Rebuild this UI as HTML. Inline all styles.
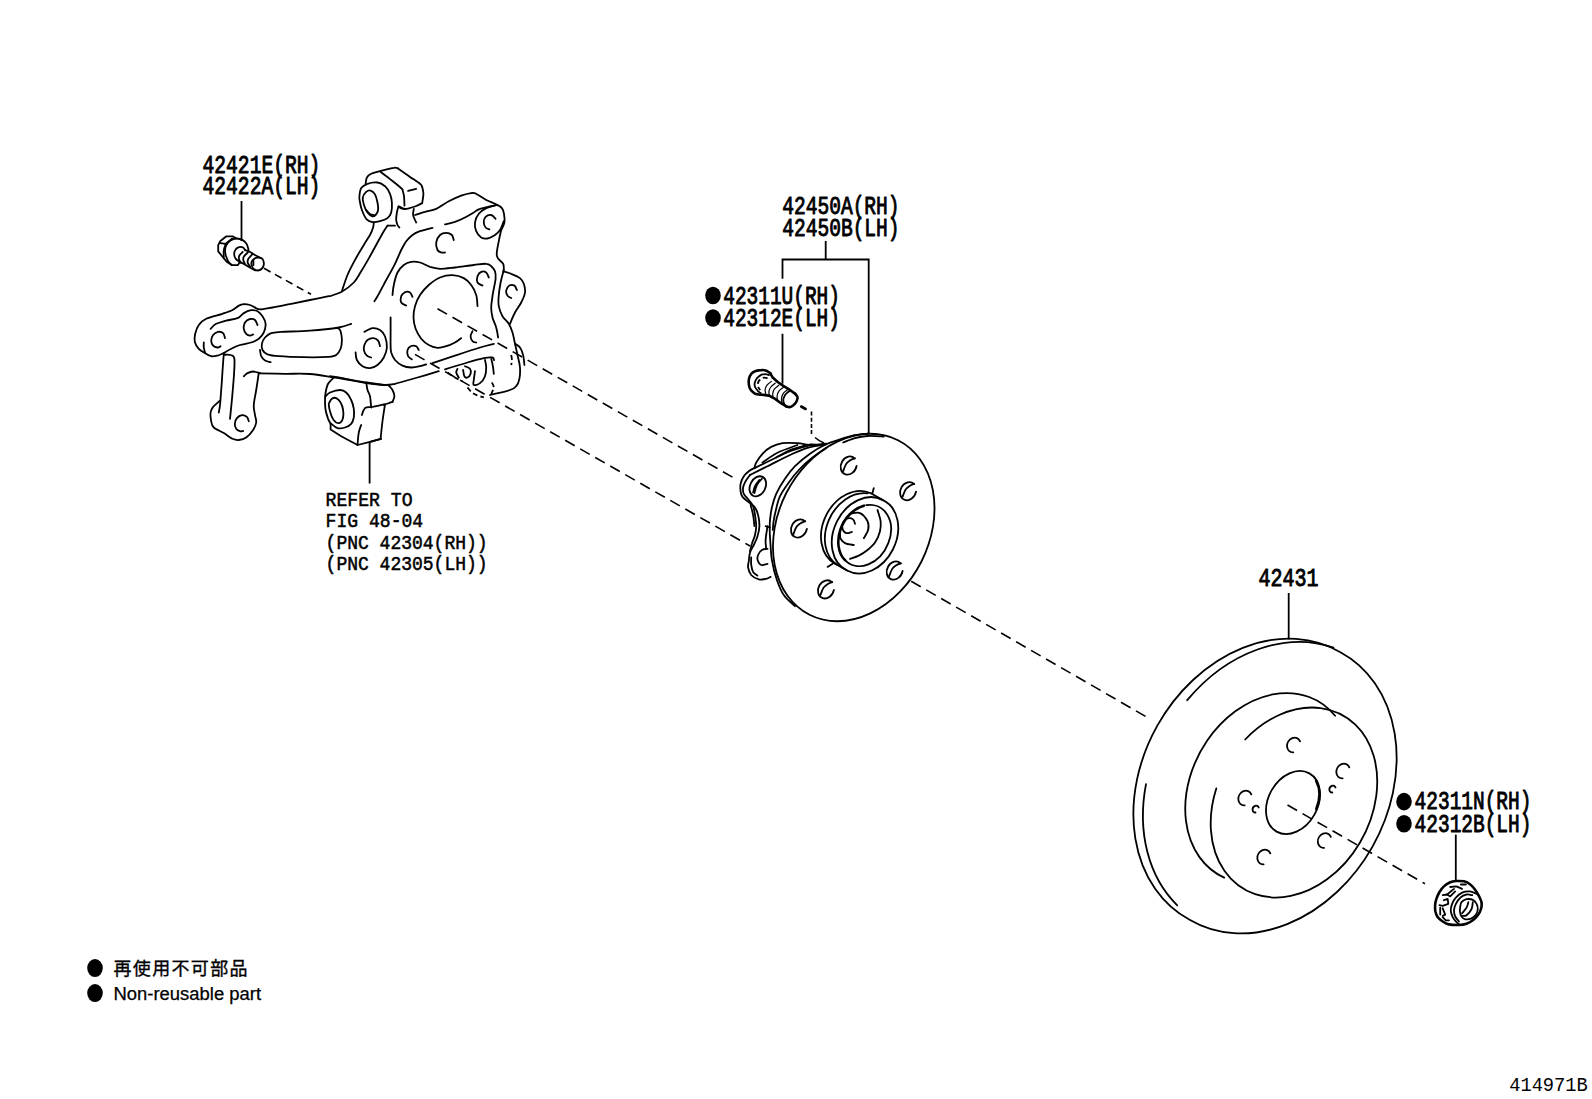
<!DOCTYPE html>
<html lang="ja">
<head>
<meta charset="utf-8">
<title>414971B</title>
<style>
html,body{margin:0;padding:0;background:#fff;}
body{width:1592px;height:1099px;overflow:hidden;font-family:"Liberation Sans","Noto Sans CJK JP",sans-serif;}
svg{display:block;position:absolute;left:0;top:0;}
.lbl{font-family:"Liberation Mono",monospace;font-size:26px;fill:#000;stroke:#000;stroke-width:.95px;stroke-linejoin:round;}
.ref{font-family:"Liberation Mono",monospace;font-size:21px;fill:#000;stroke:#000;stroke-width:.55px;stroke-linejoin:round;}
.ln{stroke:#000;stroke-width:1.8;fill:none;stroke-linecap:round;stroke-linejoin:round;}
.thin{stroke:#000;stroke-width:1.2;fill:none;stroke-linecap:round;stroke-linejoin:round;}
.dash{stroke:#000;stroke-width:1.6;fill:none;stroke-dasharray:11 6.3;}
.lead{stroke:#000;stroke-width:1.8;fill:none;}
.hv{stroke-width:2.6;}
.dsh{stroke-dasharray:5 3;stroke-linecap:butt;}
</style>
</head>
<body>
<svg width="1592" height="1099" viewBox="0 0 1592 1099">
<rect width="1592" height="1099" fill="#fff"/>

<!-- ===== leader lines ===== -->
<g class="lead" id="leaders">
<path d="M241.5 201V241"/>
<path d="M369.6 442V483.5"/>
<path d="M825.7 241V259.5M782.5 278.7V259.5H868.7V433.7M782.5 333.7V383.7"/>
<path d="M1288.7 593V639.5"/>
<path d="M1455.8 834.6V880.5"/>
</g>

<!-- ===== dashed axis lines ===== -->
<g class="dash" id="axes">
<path style="stroke-dasharray:7.5 5" d="M264 268.3L311 294.3"/>
<path d="M437.5 308.7L737.5 480"/>
<path d="M415 354.4L750 546"/>
<path d="M911.2 581.2L1147.5 717.5"/>
<path d="M1287.5 805L1425 883.8"/>
<path style="stroke-dasharray:4 2.2" d="M811.5 411.5V436"/>
<path style="stroke-dasharray:none" d="M815 437.5Q819 441 824 443"/>
</g>

<g id="disc" class="ln">
<path d="M1340.4 652.2A153.6 121.6 -60.6 1 1 1189.6 919.8A153.6 121.6 -60.6 1 1 1340.4 652.2"/>
<path d="M1187.2 700.2A153.6 121.6 -60.6 0 1 1333.4 647.7"/>
<path d="M1177.2 905.3A153.6 121.6 -60.6 0 1 1146 784.1"/>
<path d="M1224.2 877.6A100 77.2 -60.6 1 1 1335.1 715.8"/>
<path d="M1245.2 739.5A100 77.2 -60.6 1 1 1216.3 788.4"/>
<path d="M1309.4 773.4A33.4 24.6 -60.6 1 1 1276.6 831.6A33.4 24.6 -60.6 1 1 1309.4 773.4"/>
<path class="hv" d="M1316.2 780.9A33.4 24.6 -60.6 0 1 1316.3 809"/>
<path d="M1293.3 752.3A7.6 6.4 -60.6 1 1 1300 741.4"/>
<path d="M1342.6 778.3A7.6 6.4 -60.6 1 1 1349.3 767.4"/>
<path d="M1244.6 805.3A7.6 6.4 -60.6 1 1 1251.3 794.4"/>
<path d="M1324.1 847.8A7.6 6.4 -60.6 1 1 1330.8 836.9"/>
<path d="M1263.6 864.3A7.6 6.4 -60.6 1 1 1270.3 853.4"/>
<path d="M1255.5 812.5A3.6 3 -60.6 1 1 1258.7 807.5"/>
<path d="M1332.3 792.5A3.6 3 -60.6 1 1 1335.5 787.5"/>
</g>
<g id="hub" class="ln">
<path d="M898 440.2A97.8 75.7 -63.1 1 1 809.5 614.8A97.8 75.7 -63.1 1 1 898 440.2"/>
<path d="M868.8 433.5C866.5 433.8 859.8 434.3 855 435.2C850.2 436.2 844.9 437.8 840 439.4C835.1 440.9 830.6 442.1 825.6 444.5C820.6 446.9 815.1 450.1 810 453.8C804.9 457.4 799.2 462.1 795 466.2C790.8 470.4 788.1 474.2 785 478.8C781.9 483.3 778.4 489 776.2 493.8C774.1 498.5 772.9 503.1 771.9 507.5C770.8 511.9 770.4 515.8 770 520C769.6 524.2 769.7 529.2 769.8 532.5C769.8 535.8 769.9 535.4 770.2 540C770.6 544.6 770.8 553.3 771.9 560C773 566.7 774.9 574.2 776.9 580C778.9 585.8 780.7 590.6 783.8 595C786.8 599.4 793.1 604.4 795 606.2"/>
<path d="M826.2 448.1C824 449.7 817.1 453.9 812.5 457.5C807.9 461.1 802.7 465.8 798.8 470C794.8 474.2 791.9 478.1 788.8 482.5C785.6 486.9 782 492.1 780 496.2C778 500.4 777.5 503.5 776.5 507.5C775.5 511.5 774.4 516.2 773.8 520C773.1 523.8 772.9 528.3 772.8 530"/>
<path d="M843.1 442.5C845.1 441.8 850.9 439.2 855 438.1C859.1 437 862.7 436.3 867.5 436C872.3 435.7 881 436.4 883.8 436.5"/>
<path d="M856.6 466A9.4 7.7 -63.1 1 1 854.7 458.5"/>
<path d="M854.9 458.2C854.1 458.6 851.4 459.6 849.9 460.6C848.4 461.6 847.2 462.3 846.1 464.1C845 465.9 843.6 470 843.1 471.2"/>
<path d="M916 491.6A9.4 7.7 -63.1 1 1 914.1 484.1"/>
<path d="M914.3 483.8C913.5 484.2 910.8 485.2 909.3 486.2C907.8 487.2 906.6 487.9 905.5 489.7C904.4 491.5 903 495.6 902.5 496.8"/>
<path d="M806.9 528.9A9.4 7.7 -63.1 1 1 805 521.4"/>
<path d="M805.2 521.1C804.4 521.5 801.7 522.5 800.2 523.5C798.7 524.5 797.5 525.2 796.4 527C795.3 528.8 793.9 532.9 793.4 534.1"/>
<path d="M902.6 571A9.4 7.7 -63.1 1 1 900.7 563.5"/>
<path d="M900.9 563.2C900.1 563.6 897.4 564.6 895.9 565.6C894.4 566.6 893.2 567.3 892.1 569.1C891 570.9 889.6 575 889.1 576.2"/>
<path d="M833.9 589.8A9.4 7.7 -63.1 1 1 832 582.3"/>
<path d="M832.2 582C831.4 582.4 828.7 583.4 827.2 584.4C825.7 585.4 824.5 586.1 823.4 587.9C822.3 589.7 820.9 593.8 820.4 595"/>
<path d="M835.1 563.7A39.5 30.6 -63.1 0 1 870.9 493.3"/>
<path d="M837.3 564.9A39.5 30.6 -63.1 0 1 867.7 493.4"/>
<path d="M882.9 500.1A39.5 30.6 -63.1 1 1 847.1 570.5A39.5 30.6 -63.1 1 1 882.9 500.1"/>
<path d="M870.9 493.3L882.9 500.1"/>
<path d="M835.1 563.7L847.1 570.5"/>
<path d="M866.2 505.2A32 24.7 -63.1 1 1 845 560.2"/>
<path class="hv" d="M845 560.2A32 24.7 -63.1 0 1 863.9 505.7"/>
<path d="M850 513.8C851.7 513.6 857.1 511.9 860 513.1C862.9 514.4 866.1 518.4 867.5 521.2C868.9 524.1 868.8 527.2 868.1 530C867.5 532.8 864.5 536.8 863.8 538.1"/>
<path d="M877.5 510C878 511.9 880.2 517.7 880.6 521.2C881 524.8 880.9 527.7 880 531.2C879.1 534.8 877.1 539.4 875 542.5C872.9 545.6 870.2 547.8 867.5 550C864.8 552.2 861.7 554.2 858.8 555.6C855.8 557.1 851.5 558.2 850 558.8"/>
<path d="M855 523.8C854.7 523 854.4 520.2 853.1 519.4C851.9 518.5 849.2 518 847.5 518.5C845.8 519 844 520.8 843.1 522.5C842.3 524.2 842 527 842.5 528.8C843 530.5 844.7 532.6 846.2 533.1C847.8 533.6 850.9 532.1 851.9 531.9"/>
<path d="M840 533.8C840.1 534.6 839.8 537.2 840.6 538.8C841.5 540.3 842.8 542.1 845 543.1C847.2 544.2 852.3 544.7 853.8 545"/>
<path d="M872.5 493.1L873.8 488.1"/>
<path d="M827.5 566.9L833.8 563.1"/>
<path class="hv" d="M826.2 444C824.8 444.2 820.2 444.9 817.5 445C814.8 445.1 811.2 444.8 810 444.8"/>
<path d="M826.2 443.8C823.8 444 816 445.1 811.2 445C806.5 444.9 802.3 443.4 797.5 443.1C792.7 442.8 786.9 442.5 782.5 443.1C778.1 443.8 774.6 445.1 771.2 446.9C767.9 448.6 765 451.1 762.5 453.8C760 456.4 757.6 460.1 756.2 462.5C754.9 464.9 754.7 467.2 754.4 468.1"/>
<path d="M754.4 468.1C753.4 468.6 750.5 469.9 748.8 471.2C747 472.6 745.1 474.2 743.8 476.2C742.4 478.3 741.1 481.2 740.6 483.8C740.1 486.2 740.3 489.1 740.6 491.2C740.9 493.4 740.9 494.9 742.5 496.9C744.1 498.9 747.9 501.4 750 503.1C752.1 504.9 753.6 505.5 755 507.5C756.4 509.5 757.4 511.9 758.1 515C758.9 518.1 759.5 522.7 759.4 526.2C759.3 529.8 758.4 533.1 757.5 536.2C756.6 539.4 755 542.3 753.8 545C752.5 547.7 750.8 549.8 750 552.5C749.2 555.2 749.1 558.8 748.8 561.2C748.4 563.8 747.7 565.2 748.1 567.5C748.5 569.8 749.5 573 751.2 575C753 577 756.2 578.8 758.8 579.4C761.2 580 764.3 579.2 766.2 578.8C768.2 578.3 769.9 577.2 770.6 576.9"/>
<path d="M750 475C749.3 476 746.8 479.2 745.6 481.2C744.5 483.3 743.4 485.4 743.1 487.5C742.8 489.6 742.8 491.7 743.8 493.8C744.7 495.8 747.2 497.9 748.8 500C750.3 502.1 752.1 503.8 753.1 506.2C754.2 508.8 754.5 511.7 755 515C755.5 518.3 756.2 522.9 756.2 526.2C756.2 529.6 755.7 532.1 755 535C754.3 537.9 752.7 541 751.9 543.8C751 546.5 750.3 550 750 551.2"/>
<path d="M751.2 557.5C751.2 558.8 750.9 562.6 751.2 565C751.6 567.4 752.1 570.1 753.1 571.9C754.2 573.6 756.8 575 757.5 575.6"/>
<path d="M754.4 468.1C757.2 466.8 765.3 462.8 771.2 460C777.2 457.2 783.3 453.8 790 451.2C796.7 448.8 807.7 446 811.2 445"/>
<path d="M750 475C752.9 473.5 760.8 469.6 767.5 466.2C774.2 462.9 783.3 458.1 790 455C796.7 451.9 801.7 449.5 807.5 447.8C813.3 446 822.1 444.9 825 444.4"/>
<path d="M762.5 462.5C765 460.9 771.7 455.7 777.5 452.8C783.3 449.8 794.2 446.3 797.5 445"/>
<path d="M776.2 457.5C778.5 456.2 785.2 452 790 450C794.8 448 802.5 446.4 805 445.6"/>
<path d="M750.6 505C751 506.7 752.5 511.5 753.1 515C753.8 518.5 754.2 524.4 754.4 526.2"/>
<path d="M762.6 476.9A10.5 7.6 -63.1 1 1 753 495.7A10.5 7.6 -63.1 1 1 762.6 476.9"/>
<path d="M761.9 478.8C761 479.8 758.1 482.6 756.9 485C755.6 487.4 754.8 491.8 754.4 493.1"/>
<path d="M759.4 480C758.6 481 756 484.2 755 486.2C754 488.3 753.4 491.5 753.1 492.5"/>
<path d="M767.5 548.8C766.6 549 763.4 549 761.9 550C760.3 551 758.8 553.2 758.1 555C757.4 556.8 757.2 559 757.8 560.6C758.3 562.3 759.6 564.5 761.2 565C762.9 565.5 766.5 564 767.5 563.8"/>
<path d="M767.5 526.2C767.2 528.5 765.8 536.2 765.6 540C765.4 543.8 766.1 547.3 766.2 548.8"/>
<path d="M765.6 526.2L770 527.5"/>
</g>
<g id="knuckle" class="ln">
<path d="M365.6 183.8C365.8 182.7 365.9 179.2 366.9 177.5C367.8 175.8 369.1 174.8 371.2 173.8C373.4 172.7 376.2 172.2 380 171.2C383.8 170.2 390.7 168.2 393.8 167.8C396.8 167.3 397.4 168.4 398.1 168.5"/>
<path d="M398.1 168.5C400.1 169.9 406.4 174.3 410 176.9C413.6 179.4 418 182.1 420 183.8C422 185.4 421.9 186.4 422.2 186.9"/>
<path d="M422.2 186.9C422.4 188 423.4 191 423.4 193.8C423.4 196.5 422.4 201.6 422.2 203.1"/>
<path d="M422.2 203.1C421 203.7 417.9 205.5 415 206.5C412.1 207.5 407.6 209 405 209C402.4 209 400.3 206.9 399.4 206.5"/>
<path d="M380 171.5C381.5 172.6 385.8 175.9 388.8 178.1C391.7 180.4 395.2 183.1 397.5 185C399.8 186.9 401.7 188.6 402.5 189.4"/>
<path d="M402.5 190C402.8 191 403.7 193.6 404 196.2C404.3 198.9 404.4 204.1 404.5 205.6"/>
<path d="M408.1 190.9L416.2 188.8"/>
<path d="M359.4 196.2C359.6 194.1 359.9 190.2 361.2 188.1C362.6 186 364.8 184.7 367.5 183.8C370.2 182.8 374.6 182.1 377.5 182.5C380.4 182.9 382.9 184.4 385 186.2C387.1 188.1 388.9 191 390 193.8C391.1 196.5 391.7 199.4 391.9 202.5C392.1 205.6 392 209.9 391.2 212.5C390.5 215.1 389.4 216.7 387.5 218.1C385.6 219.6 382.5 220.6 380 221.2C377.5 221.9 374.8 222.5 372.5 222.1C370.2 221.7 368 220.8 366.2 218.8C364.5 216.7 363 212.9 361.9 210C360.8 207.1 360.2 203.5 359.8 201.2C359.3 199 359.1 198.4 359.4 196.2Z"/>
<path d="M362.8 197.5C363.1 195.1 364.9 193 366.2 191.9C367.6 190.7 369.2 190.2 370.6 190.6C372.1 191 373.9 192.4 375 194.4C376.1 196.4 377 199.9 377.5 202.5C378 205.1 378.4 207.9 378.1 210C377.8 212.1 376.7 214 375.6 215C374.6 216 373.2 216.7 371.9 216.2C370.5 215.8 368.8 214.2 367.5 212.5C366.2 210.8 365.2 208.8 364.4 206.2C363.6 203.8 362.4 199.9 362.8 197.5Z"/>
<path d="M366.2 210C366.9 210.7 368.7 213.2 370 214C371.3 214.8 373.3 214.8 374 215"/>
<path d="M398.5 206.5C398.2 207.5 397.2 210.2 396.9 212.5C396.5 214.8 396.1 217.9 396.2 220C396.4 222.1 397 223.8 397.5 225C398 226.2 399.1 227.1 399.4 227.5"/>
<path d="M398.5 206.5C399 206.8 400.2 208.1 401.2 208.5C402.3 208.9 404.4 208.9 405 209"/>
<path d="M413.8 208.8C413.6 209.8 412.9 213.1 413.1 215C413.3 216.9 414.5 218.8 415 220C415.5 221.2 416 222.1 416.2 222.5"/>
<path d="M387.5 225.6L395 225.6"/>
<path d="M373.8 222.5C373.6 223.3 373.8 225.4 373.1 227.5C372.5 229.6 371.6 232.1 370 235C368.4 237.9 366.2 240.8 363.8 245C361.2 249.2 357.7 255 355 260C352.3 265 349.7 269.8 347.5 275C345.3 280.2 342.8 288.5 341.9 291.2"/>
<path d="M387.5 225.6C386.9 226.6 385.4 228.4 383.8 231.2C382.1 234.1 379.8 238.3 377.5 242.5C375.2 246.7 372.7 251.5 370 256.2C367.3 261 364 266.9 361.2 271.2C358.5 275.6 356.9 279.2 353.8 282.5C350.6 285.8 346.5 289 342.5 291.2C338.5 293.5 332.1 295.4 330 296.2"/>
<path d="M415 215C416.7 214.5 421.5 212.9 425 211.9C428.5 210.8 432.3 210.5 436.2 208.8C440.2 207 444.6 203.4 448.8 201.2C452.9 199.1 457.5 197 461.2 195.6C465 194.3 468.8 193.4 471.2 193.1C473.8 192.8 473.8 192.6 476.2 193.8C478.8 194.9 482.9 198.2 486.2 200C489.6 201.8 493.6 203 496.2 204.4C498.9 205.7 500.6 206.6 501.9 208.1C503.2 209.7 503.6 211.4 504 213.8C504.4 216.1 504.8 219.8 504.4 222.5C503.9 225.2 501.8 228.8 501.2 230"/>
<path d="M496.2 205C494.6 205.5 489.2 206.7 486.2 208.1C483.3 209.6 480.6 211.4 478.8 213.8C476.9 216.1 475.4 219.6 475 222.5C474.6 225.4 475.2 228.8 476.2 231.2C477.3 233.8 479.4 236.3 481.2 237.5C483.1 238.7 485.2 238.9 487.5 238.5C489.8 238.1 492.9 236.4 495 235C497.1 233.6 498.5 232.3 500 230C501.5 227.7 503.1 222.7 503.8 221.2"/>
<path d="M495.6 218.8C494.9 218.1 492.9 215.3 491.2 215C489.6 214.7 486.9 215.6 485.6 216.9C484.4 218.1 483.8 220.7 483.8 222.5C483.8 224.3 484.7 226.4 485.6 227.5C486.6 228.6 488.8 229.1 489.4 229.4"/>
<path d="M445 224.4C446.7 224 451.7 223 455 221.9C458.3 220.7 461.9 219.1 465 217.5C468.1 215.9 471.2 214 473.8 212.5C476.2 211 476.2 210 480 208.8C483.8 207.5 493.5 205.6 496.2 205"/>
<path d="M432.5 227.9C430.4 228.4 423.3 230.1 420 231.2C416.7 232.4 414.8 233.3 412.5 235C410.2 236.7 408.1 238.8 406.2 241.2C404.4 243.8 403.1 246.2 401.2 250C399.4 253.8 397.5 258.8 395 263.8C392.5 268.8 389.2 274.6 386.2 280C383.3 285.4 379.5 292.7 377.5 296.2C375.5 299.8 374.9 300.4 374.4 301.2"/>
<path d="M453.8 240C453.4 239.2 453.1 236.2 451.9 235C450.6 233.8 448.2 232.8 446.2 232.8C444.3 232.8 441.7 233.4 440 235C438.3 236.6 436.7 240 436.2 242.5C435.8 245 436.7 248.3 437.5 250C438.3 251.7 440 252.1 441.2 252.5C442.5 252.9 444.4 252.5 445 252.5"/>
<path d="M501.2 230C500.8 231.9 499.5 236.9 498.8 241.2C498 245.6 496.1 252.5 496.9 256.2C497.6 260 502 261.5 503.1 263.8C504.3 266 503.6 269 503.8 270"/>
<path d="M392.5 295C392.7 293.3 392.9 288.8 393.8 285C394.6 281.2 395.8 275.8 397.5 272.5C399.2 269.2 401.5 266.8 403.8 265C406 263.2 408.5 262.3 411.2 261.9C414 261.5 416.9 261.7 420 262.5C423.1 263.3 426.7 265.8 430 266.9C433.3 267.9 435.8 268.6 440 268.8C444.2 268.9 449.4 268.1 455 267.5C460.6 266.9 468.5 265.6 473.8 265C479 264.4 483.3 263.5 486.2 263.8C489.2 264 489.8 265 491.2 266.2C492.7 267.5 494.3 269.2 495 271.2C495.7 273.3 495.8 275.8 495.6 278.8C495.4 281.7 494.3 285.8 493.8 288.8C493.2 291.7 492.9 293.1 492.5 296.2C492.1 299.4 491.2 304 491.2 307.5C491.2 311 491.7 314.2 492.5 317.5C493.3 320.8 495.3 324.2 496.2 327.5C497.2 330.8 497.8 335.8 498.1 337.5"/>
<path d="M477.5 306.2C477.3 304.4 477.3 298.5 476.2 295C475.2 291.5 473.3 287.8 471.2 285C469.2 282.2 466.9 279.8 463.8 278.1C460.6 276.5 456.5 275.4 452.5 275.2C448.5 275.1 444 275.9 440 277.5C436 279.1 432.1 282.1 428.8 285C425.4 287.9 422.3 291.5 420 295C417.7 298.5 416.1 302.5 415 306.2C413.9 310 413.4 313.8 413.5 317.5C413.6 321.2 414.3 325.2 415.6 328.8C416.9 332.3 419.1 336 421.2 338.8C423.4 341.5 426 343.5 428.8 345C431.5 346.5 434.6 347.5 437.5 347.8C440.4 348 443.3 347.1 446.2 346.2C449.2 345.4 452.5 343.9 455 342.5C457.5 341.1 460.2 338.9 461.2 338.1"/>
<path d="M488.8 277.5C488.3 276.7 487.5 273.4 486.2 272.5C485 271.6 482.7 271.2 481.2 271.9C479.8 272.5 478.1 274.5 477.5 276.2C476.9 278 476.7 280.9 477.5 282.5C478.3 284.1 481.7 285.1 482.5 285.6"/>
<path d="M412.5 296.9C412.1 296.1 411.2 293.3 410 292.5C408.8 291.7 406.5 291.6 405 292.2C403.5 292.9 401.9 294.5 401.2 296.2C400.6 298 400.4 300.9 401.2 302.5C402.1 304.1 405.4 305.1 406.2 305.6"/>
<path d="M418.8 350C418.3 349.4 417.5 346.9 416.2 346.2C415 345.6 412.7 345.4 411.2 346C409.8 346.6 408 348.3 407.5 350C407 351.7 407.4 354.7 408.1 356.2C408.9 357.8 411.2 358.9 411.9 359.4"/>
<path d="M472.5 331.2C472.2 332.1 470.6 334.6 470.6 336.2C470.6 337.9 471.6 340.2 472.5 341.2C473.4 342.3 475.6 342.3 476.2 342.5"/>
<path d="M516.9 290C516.5 289.3 515.6 286.4 514.4 285.6C513.1 284.9 510.7 284.8 509.4 285.6C508 286.5 506.6 289 506.2 290.6C505.9 292.3 506.7 294.4 507.5 295.6C508.3 296.9 510.6 297.7 511.2 298.1"/>
<path d="M503.8 270C503.2 272.1 501.5 278.3 500.6 282.5C499.8 286.7 499.1 291 498.8 295C498.4 299 498.1 302.7 498.8 306.2C499.4 309.8 500.8 313.3 502.5 316.2C504.2 319.2 507.1 321 508.8 323.8C510.4 326.5 511.5 329.2 512.5 332.5C513.5 335.8 514.2 340 515 343.8C515.8 347.5 516.7 351 517.5 355C518.3 359 519.7 363.5 520 367.5C520.3 371.5 520 375.6 519.4 378.8C518.8 381.9 517.8 384.4 516.2 386.2C514.7 388.1 514.4 388.5 510 390C505.6 391.5 493.3 394.2 490 395"/>
<path d="M503.1 271.2C504.5 271.7 508.4 272.6 511.2 273.8C514.1 274.9 517.9 276.5 520 278.1C522.1 279.8 522.9 281.4 523.8 283.8C524.6 286.1 525.4 289.4 525 292.5C524.6 295.6 522.9 299.2 521.2 302.5C519.6 305.8 516.9 309 515 312.5C513.1 316 510.8 321.9 510 323.8"/>
<path d="M515 343.8C515.8 344.4 518.6 345.6 520 347.5C521.4 349.4 522.4 352.1 523.1 355C523.9 357.9 524.2 363.3 524.4 365"/>
<path d="M390.6 317.5C390.6 320 390.6 327.9 390.6 332.5C390.6 337.1 390.5 341.7 390.6 345C390.7 348.3 390.5 350 391.2 352.5C392 355 393.1 357.8 395 360C396.9 362.2 399.8 364.4 402.5 365.6C405.2 366.9 408.3 367.4 411.2 367.5C414.2 367.6 417.5 366.8 420 366.2C422.5 365.7 425.2 364.7 426.2 364.4"/>
<path d="M432.5 363.1C436.2 361.9 447.1 358.2 455 355.6C462.9 353 473.5 349.5 480 347.5C486.5 345.5 491.5 344.4 493.8 343.8"/>
<path d="M330 376.2C332.1 376.6 336.5 377 342.5 378.1C348.5 379.3 359.2 382 366.2 383.1C373.3 384.3 380.2 384.9 385 385C389.8 385.1 389.6 385 395 383.8C400.4 382.5 410.2 379.6 417.5 377.5C424.8 375.4 435.2 372.3 438.8 371.2"/>
<path d="M445 369.4C448.8 368.2 461 364.4 467.5 362.5C474 360.6 479.6 359 483.8 358.1C487.9 357.3 490.8 357.1 492.5 357.5C494.2 357.9 493.8 359.8 494 360.2"/>
<path d="M355.6 352.5C355.8 353.8 355.7 357.7 356.9 360C358 362.3 360.3 364.9 362.5 366.2C364.7 367.6 367.5 368.3 370 368.1C372.5 367.9 375.2 366.8 377.5 365C379.8 363.2 382.2 360.4 383.8 357.5C385.3 354.6 386.7 351 386.9 347.5C387.1 344 386.1 339.2 385 336.2C383.9 333.3 382.1 331.4 380 330C377.9 328.6 375.1 327.8 372.5 328.1C369.9 328.4 365.7 331.2 364.4 331.9"/>
<path d="M380 346.2C379.7 345.3 379.3 342 378.1 340.6C377 339.3 374.9 338.2 373.1 338.1C371.4 338 369 338.9 367.5 340C366 341.1 365 343.2 364.4 345C363.8 346.8 363.6 348.9 364 350.6C364.4 352.4 365.7 354.5 366.9 355.6C368.1 356.8 370.5 357.2 371.2 357.5"/>
<path d="M457.5 368.8C457.3 369.4 456 371 456.2 372.5C456.5 374 458.3 376.7 458.8 377.5"/>
<path d="M465 366.2C465.8 366.7 469.1 367.5 470 368.8C470.9 370 471 372.3 470.6 373.8C470.2 375.2 468.5 377.1 467.5 377.5C466.5 377.9 465.1 377.5 464.4 376.2C463.6 375 463.3 371 463.1 370"/>
<path d="M475 371.2C474.8 372.7 474 377.7 473.8 380C473.5 382.3 472.7 384.5 473.8 385C474.8 385.5 478.1 384.6 480 383.1C481.9 381.7 484 378.9 485 376.2C486 373.6 486.2 370.2 486.2 367.5C486.2 364.8 485.2 361.2 485 360"/>
<path d="M491.2 358.8C491.6 360.2 492.7 365 493.1 367.5C493.5 370 493.6 372.7 493.8 373.8"/>
<path class="dsh" d="M491.9 382.5C492.2 383.3 493.9 385.6 493.8 387.5C493.6 389.4 491.7 392.7 491.2 393.8"/>
<path class="dsh" d="M467.5 387.5C468.5 388.5 471 392.1 473.8 393.8C476.5 395.4 482.1 396.9 483.8 397.5"/>
<path class="dsh" d="M447.5 372.5C448.8 373.3 452.5 376 455 377.5C457.5 379 461.2 380.6 462.5 381.2"/>
<path class="dsh" d="M511.2 355C511.4 355.8 511.9 358.3 511.9 360C511.9 361.7 511.4 364.2 511.2 365"/>
<path d="M255 307.5C254.2 307.1 251.9 305.6 250 305C248.1 304.4 245.6 304 243.8 304.1C241.9 304.2 240.6 304.6 238.8 305.6C236.9 306.6 235.2 308.6 232.5 310C229.8 311.4 226.9 312.3 222.5 313.8C218.1 315.2 210.2 316.9 206.2 318.8C202.3 320.6 200.6 322.5 198.8 325C196.9 327.5 195.9 330.8 195.2 333.8C194.6 336.7 194.4 340 195 342.5C195.6 345 197.1 347 198.8 348.8C200.4 350.5 202.9 351.9 205 353.1C207.1 354.4 209.2 355.8 211.2 356.2C213.3 356.7 215.4 356.1 217.5 355.6C219.6 355.1 222.7 353.5 223.8 353.1"/>
<path d="M203.8 342.5C203.8 343.3 203.5 345.8 203.8 347.5C204 349.2 204.8 351.7 205 352.5"/>
<path d="M210.6 328.8C211.6 327.9 213.6 325.1 216.2 323.8C218.9 322.4 222.7 321.6 226.2 320.6C229.8 319.7 234.6 319.4 237.5 318.1C240.4 316.9 241.5 314.4 243.8 313.1C246 311.8 249 310.6 251.2 310.2C253.5 309.9 255.6 310.2 257.5 311.2C259.4 312.2 261.1 314.2 262.5 316.2C263.9 318.3 265.4 321 265.6 323.8C265.8 326.5 264.9 330 263.8 332.5C262.6 335 260.8 337.1 258.8 338.8C256.7 340.4 254.4 341.5 251.2 342.5C248.1 343.5 243.3 344 240 345C236.7 346 234 347.4 231.2 348.8C228.5 350.1 225 352.4 223.8 353.1"/>
<path d="M257.5 325C257.1 324.2 256.2 321 255 320C253.8 319 251.7 318.6 250 319C248.3 319.4 246 320.9 245 322.5C244 324.1 243.5 326.9 243.8 328.8C244 330.6 245.2 332.6 246.2 333.8C247.3 334.9 248.9 335.5 250 335.6C251.1 335.7 252.6 334.6 253.1 334.4"/>
<path d="M225 338.1C224.7 337.3 224.3 334.2 223.1 333.1C222 332.1 219.8 331.6 218.1 331.9C216.5 332.2 214.3 333.5 213.1 335C212 336.5 211.2 338.9 211.2 340.6C211.2 342.4 212.1 344.5 213.1 345.6C214.2 346.8 216.2 347.4 217.5 347.5C218.8 347.6 220.1 346.5 220.6 346.2"/>
<path d="M255 307.5C255.8 307.8 257.1 309.4 260 309.4C262.9 309.4 267.3 308.4 272.5 307.5C277.7 306.6 285 305 291.2 303.8C297.5 302.5 303.8 301.2 310 300C316.2 298.8 325.6 296.9 328.8 296.2"/>
<path d="M351.2 323.8C349.2 324.4 345.6 326.4 338.8 327.5C331.9 328.6 319.6 329.9 310 330.6C300.4 331.4 287.7 331.5 281.2 331.9C274.8 332.3 274 332.2 271.2 333.1C268.5 334.1 266.6 335.7 265 337.5C263.4 339.3 262.3 341.7 261.9 343.8C261.5 345.8 261.6 348.2 262.5 350C263.4 351.8 264.8 353.3 267.5 354.4C270.2 355.4 272.7 355.8 278.8 356.2C284.8 356.7 295.4 357.1 303.8 357.2C312.1 357.4 323.3 357.2 328.8 356.9C334.2 356.5 334.3 356.4 336.2 355C338.2 353.6 339.7 351.2 340.6 348.8C341.6 346.2 341.9 342.9 341.9 340C341.9 337.1 341.2 333.2 340.6 331.2C340 329.3 338.5 328.6 338.1 328.1"/>
<path d="M260 350C260.2 351 260.4 354.5 261.2 356.2C262.1 358 263.4 359.6 265 360.6C266.6 361.6 269.7 362 270.6 362.2"/>
<path d="M243.8 376.2C244.4 375.7 245.9 373.9 247.5 373.1C249.1 372.3 251 371.5 253.1 371.5C255.2 371.5 258.9 372.9 260 373.1"/>
<path d="M260 373.4C264.2 373.4 276.7 373.6 285 373.8C293.3 373.9 301.7 373.4 310 374C318.3 374.6 325.6 376.1 335 377.5C344.4 378.9 358.1 381.2 366.2 382.5C374.4 383.8 381 384.6 384 385"/>
<path d="M223.8 354.4C223.5 357.2 222.9 365.3 222.5 371.2C222.1 377.2 221.7 384.4 221.2 390C220.8 395.6 220.4 401.2 220 405C219.6 408.8 219 411.2 218.8 412.5"/>
<path d="M223.8 354.8C224.9 354.8 228.9 354.3 230.6 355C232.4 355.7 233.9 355 234.4 358.8C234.9 362.5 234.2 370.6 233.8 377.5C233.3 384.4 232.5 393.1 231.9 400C231.2 406.9 230.3 415.6 230 418.8"/>
<path d="M258.8 373.1C258.3 375.9 257.1 384.7 256.2 390C255.4 395.3 254 400.8 253.8 405C253.5 409.2 254.6 412.1 255 415C255.4 417.9 256.6 420 256.2 422.5C255.9 425 254.8 427.5 253.1 430C251.5 432.5 248.6 435.8 246.2 437.5C243.9 439.2 241 439.8 238.8 440C236.5 440.2 235 439.9 232.5 438.8C230 437.6 226.9 435 223.8 433.1C220.6 431.2 215.8 429.5 213.8 427.5C211.7 425.5 211.8 423.8 211.2 421.2C210.7 418.8 210.3 414.9 210.6 412.5C210.9 410.1 211.6 408.9 213.1 406.9C214.7 404.9 218.9 401.7 220 400.6"/>
<path d="M248.8 421.2C248.4 420.5 248 417.9 246.9 416.9C245.7 415.9 243.5 415 241.9 415.2C240.2 415.5 238.1 416.7 236.9 418.1C235.7 419.5 234.9 422 234.8 423.8C234.6 425.5 235.4 427.5 236.2 428.8C237.1 430 238.9 430.9 240 431.2C241.1 431.6 242.6 431 243.1 431"/>
<path d="M333.8 377.5C332.8 378.5 329.5 381.2 328.1 383.8C326.8 386.2 326.1 389.8 325.6 392.5C325.1 395.2 325 397.1 325 400C325 402.9 325.1 406.9 325.6 410C326.1 413.1 327.3 416.5 328.1 418.8C329 421 330.2 422.9 330.6 423.8"/>
<path d="M325.6 396.2C326.4 395.6 327.6 393.5 330 392.5C332.4 391.5 337.3 390 340 390C342.7 390 344.4 390.8 346.2 392.5C348.1 394.2 350 397.3 351.2 400C352.5 402.7 353.3 405.8 353.8 408.8C354.2 411.7 354.2 415 353.8 417.5C353.3 420 352.7 422.1 351.2 423.8C349.8 425.4 347.3 426.8 345 427.5C342.7 428.2 339.8 428.8 337.5 428.1C335.2 427.5 332.3 424.5 331.2 423.8"/>
<path d="M329.4 402.5C329.9 401.5 330.7 399.5 331.9 398.8C333 398 334.8 397.5 336.2 398.1C337.7 398.8 339.5 400.5 340.6 402.5C341.8 404.5 342.7 407.5 343.1 410C343.5 412.5 343.5 415.4 343.1 417.5C342.7 419.6 341.8 421.7 340.6 422.5C339.5 423.3 337.6 423.2 336.2 422.5C334.9 421.8 333.5 420 332.5 418.1C331.5 416.2 330.6 413.4 330 411.2C329.4 409.1 328.9 406.5 328.8 405C328.6 403.5 328.9 403.5 329.4 402.5Z"/>
<path d="M330.6 423.8L330.6 429.4L341.2 436.2L357.5 445L370 441.9L381.2 438.8"/>
<path d="M361.2 425C360.8 426.2 359.4 429.2 358.8 432.5C358.1 435.8 357.7 442.9 357.5 445"/>
<path d="M366.2 382.5C366.5 383.8 366.9 387.7 367.5 390C368.1 392.3 369.4 393.3 370 396.2C370.6 399.2 371 405.6 371.2 407.5"/>
<path d="M361.9 415C362.4 413.9 363.2 409.5 365 408.1C366.8 406.8 369.3 407.5 372.5 406.9C375.7 406.2 382.1 404.8 384 404.4"/>
<path d="M388.8 385.6C389.4 386.4 391.6 388.2 392.5 390C393.4 391.8 394.4 394.3 394.4 396.2C394.4 398.2 392.8 400.9 392.5 401.9"/>
<path d="M392.5 401.9C391.2 402.3 386.5 403.9 385 404.4C383.5 404.9 384 404.7 383.8 404.8"/>
<path d="M385 404.4C384.6 407.2 383.2 415.5 382.5 421.2C381.8 427 380.9 435.8 380.6 438.8"/>
<path d="M380.6 438.8L370 441.9"/>
</g>
<g id="bolt1" class="ln">
<path d="M236.4 238.5L232.6 236.3L226.4 236.3L220.1 241.3L218.2 245.1L218.2 251.4L223.8 258.3L226.4 261.4L232 265.2L237.7 265.2L239.5 262.7"/>
<path d="M220.4 243.1L225.7 243.8L232.3 238.5"/>
<path d="M225.7 243.8C225.4 244.9 224.2 247.7 223.8 250.1C223.5 252.5 223.8 256.9 223.8 258.3"/>
<path d="M248.3 251.4C248.3 251 248.7 250.1 248.3 248.9C248 247.6 247.4 245.3 246.5 243.8C245.5 242.4 244.4 241 242.7 240.1C241 239.2 238.5 238.4 236.4 238.5C234.3 238.6 231.8 239.6 230.1 240.7C228.5 241.8 227.2 243.5 226.4 245.1C225.5 246.7 225.2 248.5 225.1 250.1C225 251.8 225.2 253.3 225.7 255.2C226.3 257 227.2 259.8 228.2 261.4C229.3 263.1 231.4 264.6 232 265.2"/>
<path d="M245.2 250.1C244.8 249.7 243.8 247.8 242.7 247.3C241.5 246.8 239.5 246.8 238.3 247.3C237 247.8 235.8 248.9 235.2 250.1C234.5 251.3 234.1 253.1 234.2 254.5C234.3 256 234.9 257.7 235.8 258.9C236.7 260.1 238.9 261.3 239.5 261.7"/>
<path d="M242.7 252C242.2 252.5 240.2 254 239.5 255.2C238.9 256.3 238.7 257.7 238.9 258.9C239.1 260.2 240.5 262.1 240.8 262.7"/>
<path d="M247.7 252.6C247.1 253.3 244.7 255.2 243.9 256.4C243.2 257.7 243.1 258.9 243.3 260.2C243.5 261.5 244.9 263.6 245.2 264.3"/>
<path d="M252.1 254.5C251.5 255.3 249.1 257.6 248.3 258.9C247.6 260.3 247.4 261.4 247.7 262.7C248 264 249.8 266.1 250.2 266.8"/>
<path d="M245.2 250.1L250.2 252L255.3 255.2L261.5 258.3"/>
<path d="M239.5 261.9L243.9 263.9L250.2 267.7L255.3 270.4"/>
<path d="M263.4 260.8C263.8 262 264 263.8 263.7 265.2C263.4 266.6 262.5 268.1 261.5 269C260.5 269.9 258.9 270.4 257.8 270.5C256.6 270.6 255.6 270.3 254.6 269.6C253.7 268.9 252.6 267.7 252.1 266.5C251.6 265.2 251.2 263.3 251.5 262.1C251.8 260.8 252.9 259.7 254 258.9C255 258.2 256.5 257.8 257.8 257.7C259 257.6 260.6 257.8 261.5 258.3C262.5 258.8 263.1 259.7 263.4 260.8Z"/>
<path d="M253.4 260.5L253.4 265.2"/>
</g>
<g id="bolt2" class="ln">
<path class="hv" d="M770.2 373.2C769.5 372.8 767.8 371.2 766.4 370.7C764.9 370.2 763.1 370 761.4 370.1C759.6 370.1 757.4 370.4 755.7 371C754 371.6 752.4 372.6 751.3 373.8C750.2 375 749.5 376.5 749.1 378.2C748.7 379.9 748.6 382.1 748.8 383.9C749 385.6 749.1 387.3 750.1 388.9C751 390.5 753 392.3 754.4 393.3C755.9 394.2 757.3 394.3 758.8 394.5C760.4 394.8 762.1 394.7 763.9 394.9C765.6 395.1 768.6 395.6 769.5 395.8"/>
<path class="hv" d="M770.2 373.2L772.7 377.6L777.7 382L783.3 385.8L790.3 390.2L795.3 393.9"/>
<path class="hv" d="M769.5 395.8L775.2 398.9L780.2 402.7L785.9 406.2"/>
<path class="hv" d="M795.3 393.9C795.6 394.4 797.3 395.8 797.5 397.1C797.7 398.3 797.2 400.1 796.5 401.5C795.9 402.8 794.5 404.3 793.4 405.2C792.2 406.2 790.9 407 789.6 407.1C788.4 407.3 786.5 406.3 785.9 406.2"/>
<path d="M790.3 390.8C789.6 391.2 787.5 392.2 786.5 393.3C785.4 394.3 784.5 395.8 784 397.1C783.4 398.3 783.2 399.6 783.3 400.8C783.4 402.1 784.1 403.7 784.6 404.6C785.1 405.5 786.2 406.2 786.5 406.5"/>
<path class="thin" d="M771.4 381.4C770.7 382 768.1 383.8 767 385.1C766 386.5 765.3 388.1 765.1 389.5C764.9 391 765.6 393.2 765.8 393.9"/>
<path class="thin" d="M775.2 383.2C774.4 383.9 771.8 385.6 770.8 387C769.7 388.4 769.1 390.1 768.9 391.6C768.7 393.1 769.4 395.4 769.5 396.2"/>
<path class="thin" d="M778.9 385.1C778.2 385.8 775.6 387.5 774.5 388.9C773.5 390.3 772.9 392.1 772.7 393.7C772.5 395.3 773.2 397.6 773.3 398.4"/>
<path class="thin" d="M783.3 387.3C782.6 388 780 389.6 778.9 391.1C777.9 392.6 777.3 394.4 777.1 396.1C776.9 397.8 777.6 400.2 777.7 401.1"/>
<path class="thin" d="M787.7 389.5C787 390.2 784.4 391.8 783.3 393.3C782.3 394.8 781.7 396.8 781.5 398.5C781.2 400.2 782 402.8 782.1 403.7"/>
<path d="M768.9 375.1C768.3 374.9 766.5 374.1 765.1 374.1C763.8 374.1 762.1 374.4 760.7 375.1C759.4 375.8 758 377 757 378.2C756 379.5 755.1 381.1 754.8 382.6C754.4 384.1 754.5 385.5 755.1 387C755.7 388.5 757.3 390.4 758.2 391.4C759.2 392.4 760.3 392.7 760.7 393"/>
<path class="dsh" d="M767.6 378.2C767 378.1 765.1 377.4 763.9 377.6C762.6 377.8 761.1 378.5 760.1 379.5C759.1 380.4 758.2 382 757.9 383.2C757.6 384.5 757.8 385.9 758.2 387C758.6 388.2 759.8 389.6 760.1 390.2"/>
<path class="hv" d="M801.2 406.5L805.6 409"/>
</g>
<g id="nut" class="ln">
<path class="hv" d="M1455.9 881C1453.6 881.2 1452.2 881.4 1450.2 882.3C1448.2 883.2 1445.7 884.7 1443.9 886.4C1442.1 888 1440.8 889.9 1439.5 892C1438.3 894.1 1437.1 896.7 1436.4 898.9C1435.6 901.1 1435.3 903.1 1435.1 905.2C1435 907.3 1435 909.5 1435.4 911.5C1435.9 913.5 1436.4 915.5 1437.6 917.1C1438.8 918.8 1440.8 920.3 1442.7 921.5C1444.5 922.7 1446.2 923.8 1448.9 924.4C1451.7 924.9 1456.1 925.1 1459 925C1461.9 924.9 1464.2 924.5 1466.5 923.7C1468.8 922.9 1470.9 921.7 1472.8 920.3C1474.7 918.9 1476.5 917.1 1477.8 915.3C1479.2 913.4 1480.4 911.1 1481 909C1481.6 906.9 1481.9 904.8 1481.6 902.7C1481.3 900.6 1480.1 898.5 1479.1 896.4C1478 894.3 1476.8 892.1 1475.3 890.1C1473.9 888.1 1472.2 885.9 1470.3 884.5C1468.4 883 1466.4 881.9 1464 881.3C1461.6 880.8 1458.2 880.9 1455.9 881Z"/>
<path d="M1476.6 893.9C1475.4 893.5 1472.1 891.6 1469.7 891.4C1467.3 891.2 1464.4 891.6 1462.1 892.6C1459.8 893.7 1457.5 895.8 1455.9 897.7C1454.2 899.5 1452.9 901.7 1452.1 903.9C1451.2 906.1 1450.7 908.7 1450.8 910.9C1450.9 913.1 1451.8 915.3 1452.7 917.1C1453.7 919 1455.3 920.9 1456.5 922.2C1457.6 923.4 1459.1 924.3 1459.6 924.7"/>
<path d="M1472.2 895.2C1471.2 895 1468.5 894.1 1466.5 894.5C1464.5 894.9 1462 896.1 1460.3 897.7C1458.5 899.2 1456.9 901.9 1455.9 903.9C1454.8 906 1454.1 908.1 1454 910.2C1453.9 912.3 1454.4 914.6 1455.2 916.5C1456.1 918.4 1458.4 920.7 1459 921.5"/>
<path d="M1461.5 902.1C1462.6 900.9 1464.6 899.6 1466.5 899.2C1468.4 898.9 1471.1 899.1 1472.8 899.9C1474.5 900.6 1475.7 902.4 1476.6 903.9C1477.4 905.5 1477.9 907.2 1477.8 909C1477.7 910.7 1477 913.1 1476 914.6C1474.9 916.2 1473.3 917.6 1471.6 918.4C1469.8 919.2 1467 919.6 1465.3 919.3C1463.6 919 1462.4 917.8 1461.5 916.5C1460.6 915.2 1460.1 913.2 1459.9 911.5C1459.7 909.8 1460 908 1460.3 906.5C1460.5 904.9 1460.5 903.3 1461.5 902.1Z"/>
<path d="M1468.4 902.1C1468.1 903 1467.6 905.8 1466.5 907.7C1465.5 909.6 1462.9 912.4 1462.1 913.4"/>
<path d="M1472.8 902.1C1472.6 903.2 1472.6 906.8 1471.6 909C1470.5 911.2 1468 914.1 1466.5 915.3C1465.1 916.4 1463.4 915.8 1462.8 915.9"/>
<path d="M1450.2 887L1456.5 886.4L1462.1 888.9"/>
<path d="M1447.1 894.5L1454 888.9"/>
<path d="M1442.7 895.2L1447.1 894.5L1450.2 896.4L1455.2 891.4"/>
<path d="M1443.9 900.2L1447.7 898.9L1448.3 903.9L1442.7 905.8L1439.5 905.2"/>
<path d="M1440.2 907.7L1440.2 914.6"/>
<path d="M1442.7 908.3L1445.2 914.6L1442.7 915.9"/>
<path d="M1460.9 884.5L1465.9 884.5"/>
<path d="M1442.7 917.1L1445.8 920.3L1448.9 920.3"/>
</g>

<!-- ===== labels ===== -->
<g id="labels">
<text class="lbl" x="202.6" y="172.6" textLength="117.6" lengthAdjust="spacingAndGlyphs">42421E(RH)</text>
<text class="lbl" x="202.6" y="194.3" textLength="117.6" lengthAdjust="spacingAndGlyphs">42422A(LH)</text>

<text class="lbl" x="782.2" y="213.6" textLength="117.4" lengthAdjust="spacingAndGlyphs">42450A(RH)</text>
<text class="lbl" x="782.2" y="235.8" textLength="117.4" lengthAdjust="spacingAndGlyphs">42450B(LH)</text>

<ellipse cx="713" cy="295.5" rx="7.8" ry="8.8"/>
<ellipse cx="713" cy="318" rx="7.8" ry="8.8"/>
<text class="lbl" x="723.3" y="303.6" textLength="116.6" lengthAdjust="spacingAndGlyphs">42311U(RH)</text>
<text class="lbl" x="723.3" y="326.1" textLength="116.6" lengthAdjust="spacingAndGlyphs">42312E(LH)</text>

<text class="lbl" x="1258.4" y="586.3" textLength="60" lengthAdjust="spacingAndGlyphs">42431</text>

<ellipse cx="1404" cy="801.6" rx="7.8" ry="8.8"/>
<ellipse cx="1404" cy="823.8" rx="7.8" ry="8.8"/>
<text class="lbl" x="1414.6" y="808.7" textLength="116.8" lengthAdjust="spacingAndGlyphs">42311N(RH)</text>
<text class="lbl" x="1414.6" y="831.6" textLength="116.8" lengthAdjust="spacingAndGlyphs">42312B(LH)</text>

<text class="ref" x="325.6" y="505.6" textLength="87" lengthAdjust="spacingAndGlyphs">REFER TO</text>
<text class="ref" x="325.6" y="526.8" textLength="97.6" lengthAdjust="spacingAndGlyphs">FIG 48-04</text>
<text class="ref" x="325.6" y="548.5" textLength="162" lengthAdjust="spacingAndGlyphs">(PNC 42304(RH))</text>
<text class="ref" x="325.6" y="570.3" textLength="162" lengthAdjust="spacingAndGlyphs">(PNC 42305(LH))</text>

<ellipse cx="95" cy="968.1" rx="7.8" ry="9"/>
<ellipse cx="95" cy="993.1" rx="7.8" ry="9"/>
<text x="113.5" y="975" font-family="'Liberation Sans','Noto Sans CJK JP',sans-serif" font-size="18" stroke="#000" stroke-width=".35" textLength="134" lengthAdjust="spacing">再使用不可部品</text>
<text x="113.5" y="999.6" font-family="'Liberation Sans',sans-serif" font-size="17.5" stroke="#000" stroke-width=".25" textLength="147.5" lengthAdjust="spacingAndGlyphs">Non-reusable part</text>

<text x="1509.2" y="1090.8" font-family="'Liberation Mono',monospace" font-size="19.4" textLength="78.6" lengthAdjust="spacingAndGlyphs">414971B</text>
</g>
</svg>
</body>
</html>
